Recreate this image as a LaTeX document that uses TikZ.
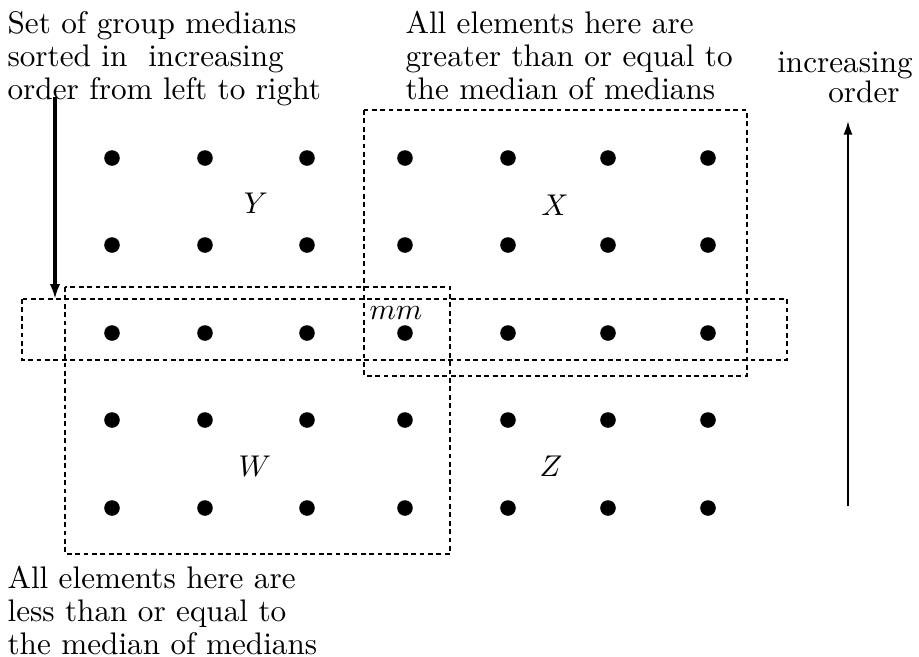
\documentclass[tikz,border=0pt]{standalone}
\usepackage{tikz}
\usetikzlibrary{arrows.meta,positioning}

\tikzset{
  dot/.style={circle, fill=black, inner sep=0pt, minimum size=5.2pt},
  grpbox/.style={draw, line width=0.5pt, dash pattern=on 1.6pt off 1.2pt},
  note/.style={align=left, inner sep=0pt, font={\fontsize{10.4}{11}\selectfont}},
  setname/.style={inner sep=0pt, font={\fontsize{10.4}{11}\selectfont}},
}

\begin{document}
\begin{tikzpicture}[x=0.3333pt, y=-0.3333pt]
    \useasboundingbox (0,0) rectangle (919,657);
    % group medians, one column per group
    \foreach \c/\x in {1/112,2/205,3/307,4/405,5/508,6/608,7/708}
      \foreach \r/\y in {1/158,2/245,3/333,4/420,5/508}
        \node[dot] (d\r\c) at (\x,\y) {};
    % dotted regions
    \draw[grpbox] (22,299) rectangle (787,360);
    \draw[grpbox] (364,110) rectangle (747,376);
    \draw[grpbox] (65,287) rectangle (450,554);
    % region names
    \node[setname] (Y) at (256,203) {$Y$};
    \node[setname] (X) at (555,205) {$X$};
    \node[setname] (W) at (255,466) {$W$};
    \node[setname] (Z) at (551,466) {$Z$};
    \node[setname] (mm) at (396,313) {$mm$};
    % captions
    \node[note, anchor=north west] (sorted) at (7,11)
      {Set of group medians\\sorted in~ increasing\\order from left to right};
    \node[note, anchor=north west] (upper) at (405,11)
      {All elements here are\\greater than or equal to\\the median of medians};
    \node[note, anchor=north west] (lower) at (7,566)
      {All elements here are\\less than or equal to\\the median of medians};
    \node[note, anchor=base] (incr) at (845,72) {increasing};
    \node[note, anchor=base] (ord) at (864,102) {order};
    % arrows
    \coordinate (s1) at (55,97);
    \coordinate (s2) at (55,299);
    \draw[line width=1pt, -{Latex[length=5pt,width=3.5pt]}] (s1) -- (s2);
    \coordinate (o1) at (848,506);
    \coordinate (o2) at (848,121);
    \draw[line width=0.6pt, -{Latex[length=4.5pt,width=3pt]}] (o1) -- (o2);
\end{tikzpicture}
\end{document}
